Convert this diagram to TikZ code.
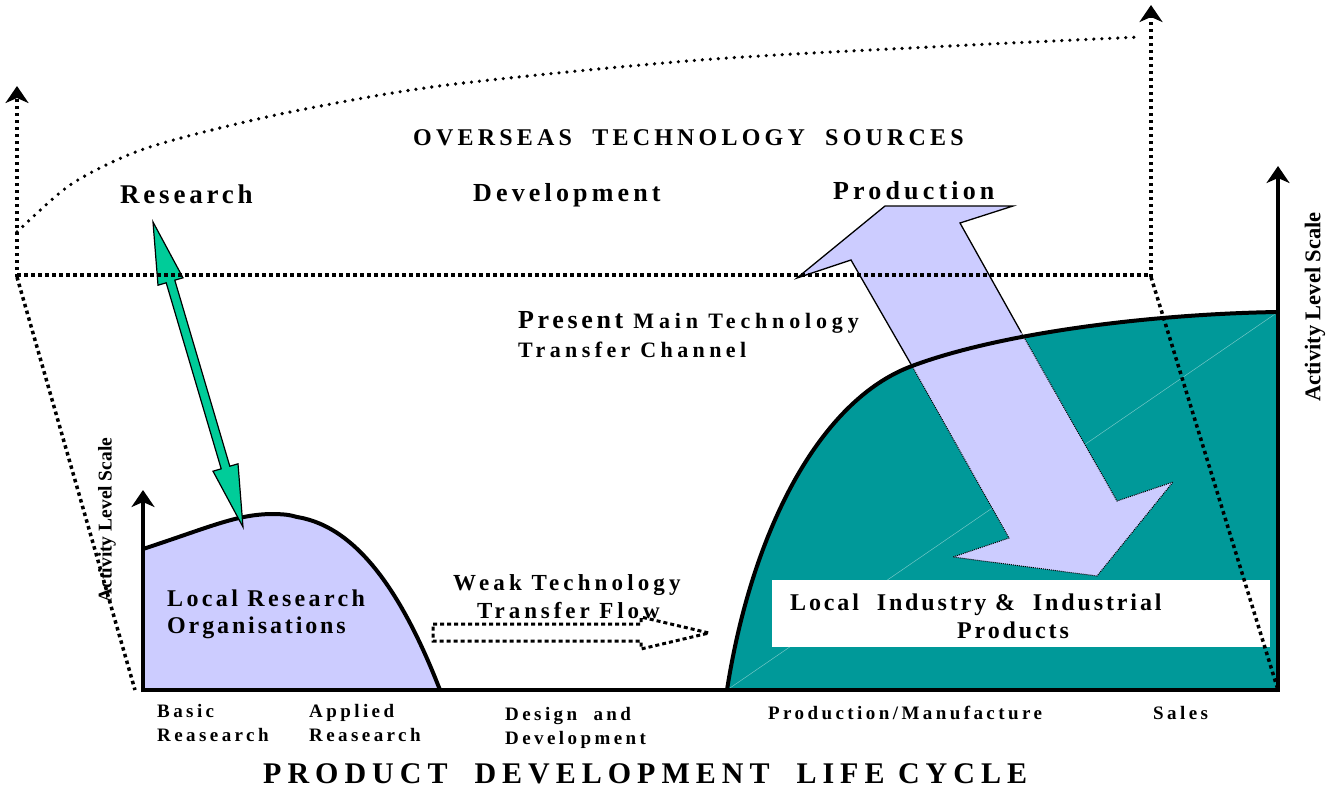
\documentclass[tikz,border=0pt]{standalone}
\usepackage{fontspec}
\setmainfont{Liberation Serif}
\usetikzlibrary{arrows.meta}
\definecolor{lav}{RGB}{204,204,255}
\definecolor{tealc}{RGB}{0,153,153}
\definecolor{greenc}{RGB}{0,204,153}
\newcommand\tfont[2]{\fontsize{#1}{#1}\selectfont\bfseries\addfontfeature{LetterSpace=#2}}
\begin{document}
\begin{tikzpicture}[x=1pt,y=-1pt,
  thickdot/.style={line width=3.5pt, dash pattern=on 3.5pt off 3.5pt},
  rounddot/.style={line width=3.6pt, line cap=round, dash pattern=on 0pt off 8pt},
  finedot/.style={line width=1pt, dash pattern=on 1pt off 1pt},
  axisline/.style={line width=4pt},
  tipped/.style={-{Stealth[length=17pt,width=23pt,inset=5pt]}},
  lbl/.style={inner sep=0pt, anchor=base west},
  vlbl/.style={inner sep=0pt, rotate=90, font=\bfseries\fontsize{#1}{#1}\selectfont},
]
\useasboundingbox (0,0) rectangle (1334,788);

% teal production region
\fill[tealc] (727,690) .. controls (752,530) and (820,400) .. (912,366)
  .. controls (1000,333) and (1150,314) .. (1278,312) -- (1278,690) -- cycle;
\draw[tealc!55!white, line width=0.5pt] (727,690) -- (1278,312);

% lavender research hill
\fill[lav] (143,690) -- (143,549) .. controls (210,527) and (235,515) .. (270,514)
  .. controls (285,514) and (290,515) .. (297,517)
  .. controls (360,527) and (405,600) .. (440,690) -- cycle;

% big lavender transfer arrow
\fill[lav] (797,278) -- (885,206) -- (1013,206) -- (960,223) -- (1021,332) -- (1117,501) -- (1173,482) -- (1097,576) -- (953,557) -- (1009,538) -- (912,366) -- (851,260) -- cycle;

% outlines of the curves
\draw[axisline] (143,549) .. controls (210,527) and (235,515) .. (270,514)
  .. controls (285,514) and (290,515) .. (297,517)
  .. controls (360,527) and (405,600) .. (440,690);
\draw[axisline] (727,690) .. controls (752,530) and (820,400) .. (912,366)
  .. controls (1000,333) and (1150,314) .. (1278,312);
\draw[axisline] (141,690) -- (1280,690);
\draw[axisline, tipped] (143,692) -- (143,490);
\draw[axisline, tipped] (1278,692) -- (1278,166);

% arrow outlines
\draw[line width=1.3pt, line join=miter] (912,366) -- (851,260) -- (797,278) -- (885,206) -- (1013,206) -- (960,223) -- (1021,332);
\draw[finedot] (1021,332) -- (1117,501) -- (1173,482) -- (1097,576) -- (953,557) -- (1009,538) -- (912,366);

% green double arrow
\filldraw[fill=greenc, draw=black, line width=1.2pt, line join=miter]
  (153,222) -- (183,277.8) -- (174.8,280.2) -- (229.8,466.2) -- (238,463.8) -- (243,527)
  -- (213,471.2) -- (221.2,468.8) -- (166.2,282.8) -- (158,285.2) -- cycle;

% white label box
\fill[white] (772,580) rectangle (1270,647);

% overseas dotted frame
\draw[thickdot] (17,275) -- (1151,275);
\draw[thickdot, tipped] (17,277) -- (17,86);
\draw[thickdot, tipped] (1151,277) -- (1151,5);
\draw[thickdot] (17,277) -- (135,690);
\draw[thickdot] (1151,277) -- (1278,690);
\draw[rounddot] plot[smooth] coordinates {(17,232) (70,185) (133,153) (200,133) (300,110) (447,85) (700,60) (950,46) (1140,37)};

% weak technology flow arrow
\draw[line width=3pt, dash pattern=on 4pt off 3pt] (433,624) -- (641,624) -- (641,617) -- (709,633) -- (641,649) -- (641,641) -- (433,641) -- cycle;

% texts
\node[lbl, font=\tfont{24}{17.5}] (ovs) at (413,145) {OVERSEAS\ \ TECHNOLOGY\ \ SOURCES};
\node[lbl, font=\tfont{27}{14}] (res) at (120,203) {Research};
\node[lbl, font=\tfont{26}{16}] (dev) at (473,201) {Development};
\node[lbl, font=\tfont{26}{16}] (prod) at (833,199) {Production};
\node[lbl] (pmt) at (518,328) {{\tfont{26}{14}Present }{\tfont{22}{22}Main Technology}};
\node[lbl, font=\tfont{22}{20}] (tch) at (518,357) {Transfer Channel};
\node[lbl, font=\tfont{23}{18}] (weak) at (453,590) {Weak Technology};
\node[lbl, font=\tfont{23}{17}] (tflow) at (477,618) {Transfer Flow};
\node[lbl, font=\tfont{24}{14}] (lro1) at (167,606) {Local Research};
\node[lbl, font=\tfont{24}{12}] (lro2) at (167,633) {Organisations};
\node[lbl, font=\tfont{24}{12}] (lip1) at (790,610) {Local\ \ Industry \&\ \ Industrial};
\node[lbl, font=\tfont{24}{12}] (lip2) at (957,638) {Products};
\node[lbl, font=\tfont{19}{18}] (b1) at (157,717) {Basic};
\node[lbl, font=\tfont{19}{18}] (b2) at (157,741) {Reasearch};
\node[lbl, font=\tfont{19}{18}] (a1) at (309,717) {Applied};
\node[lbl, font=\tfont{19}{18}] (a2) at (309,741) {Reasearch};
\node[lbl, font=\tfont{19}{18}] (d1) at (505,720) {Design\ \ and};
\node[lbl, font=\tfont{19}{18}] (d2) at (505,744) {Development};
\node[lbl, font=\tfont{19}{18}] (pm) at (768,719) {Production/Manufacture};
\node[lbl, font=\tfont{19}{18}] (sal) at (1153,719) {Sales};
\node[lbl, font=\tfont{30}{20}] (pdlc) at (263,783) {PRODUCT\ \ DEVELOPMENT\ \ LIFE CYCLE};
\node[vlbl=22.5] (alsR) at (1315,307) {Activity Level Scale};
\node[vlbl=19.5] (alsL) at (107,520) {Activity Level Scale};
\end{tikzpicture}
\end{document}
